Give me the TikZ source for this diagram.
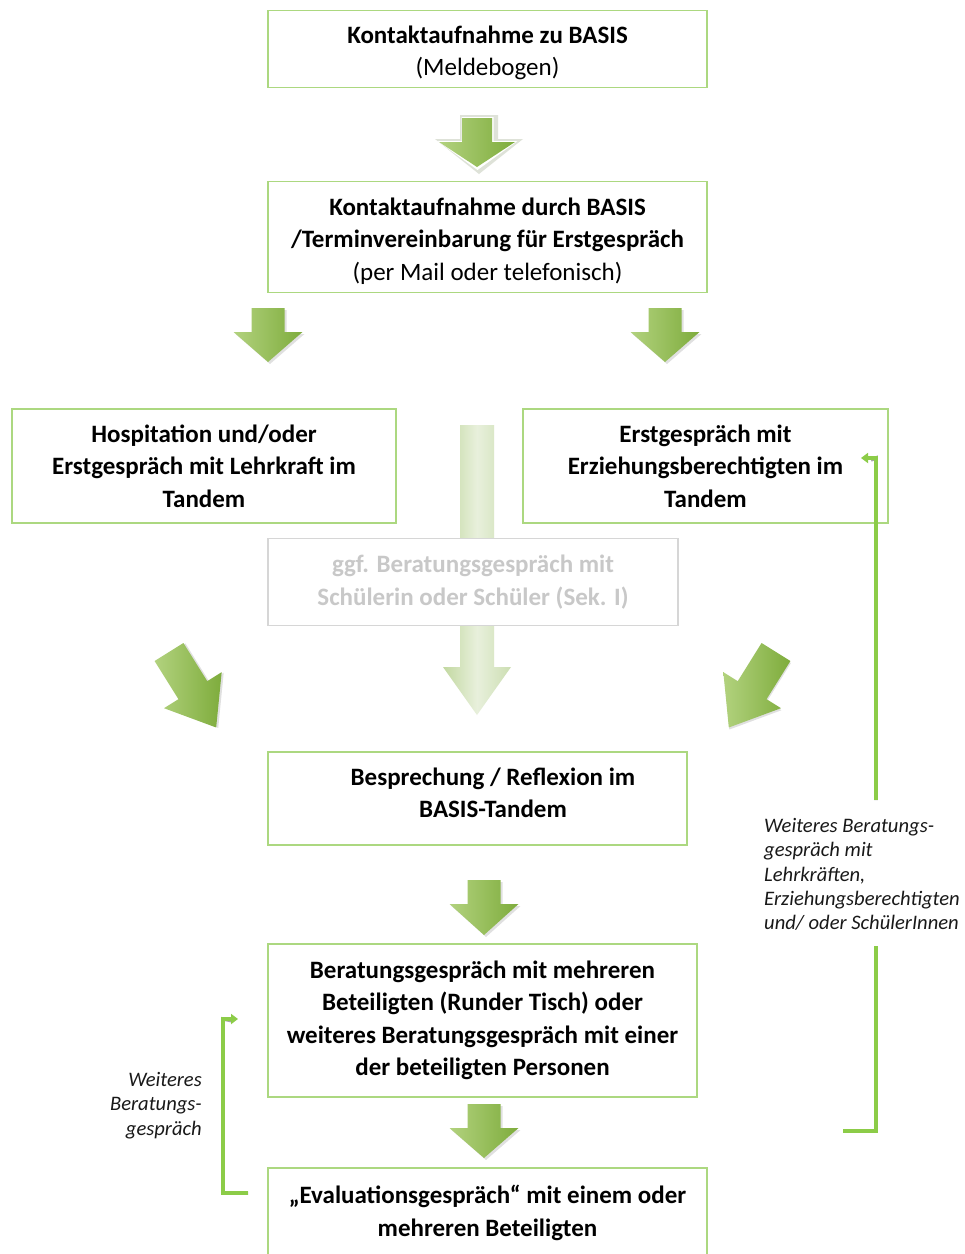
\documentclass[tikz,border=0pt]{standalone}
\usepackage{fontspec}
\setmainfont{Carlito}
\usetikzlibrary{arrows.meta}
\definecolor{boxgreen}{RGB}{172,216,128}
\definecolor{loopgreen}{RGB}{140,204,72}
\definecolor{arrL}{RGB}{178,210,126}
\definecolor{arrR}{RGB}{126,172,60}
\definecolor{fadeL}{RGB}{194,216,160}
\definecolor{fadeM}{RGB}{232,240,220}
\definecolor{fadeR}{RGB}{204,222,178}
\definecolor{fadetext}{RGB}{200,200,200}
\definecolor{fadeborder}{RGB}{214,214,214}
\newcommand{\bigdownarrow}[7]{%
  \path[#7] (#1-#3,#2) -- (#1+#3,#2) -- (#1+#3,#4) -- (#1+#5,#4) -- (#1,#6)
    -- (#1-#5,#4) -- (#1-#3,#4) -- cycle;}
\tikzset{
  box/.style={draw=boxgreen, line width=1.6pt, fill=white, align=center,
    inner sep=0pt, font=\fontsize{25}{32.5}\selectfont\bfseries, text=black},
  fadebox/.style={box, draw=fadeborder, text=fadetext},
  boxtext/.style={align=center, inner sep=0pt,
    font=\fontsize{25}{32.5}\selectfont\bfseries, text=black},
  bigarrow/.style={left color=arrL, right color=arrR, draw=none},
  fadearrow/.style={left color=fadeL, right color=fadeR, middle color=fadeM, draw=none},
  arrowshadow/.style={fill=black, opacity=0.12, draw=none},
  loopline/.style={draw=loopgreen, line width=3.5pt},
  loopshadow/.style={draw=black!35, line width=3.5pt},
  lbl/.style={inner sep=0pt, font=\fontsize{20.6}{24.4}\selectfont\itshape, text=black!90},
}
\begin{document}
\begin{tikzpicture}[x=1pt,y=-1pt]
\useasboundingbox[fill=white] (0,0) rectangle (965,1254);

% faded central arrow (behind the middle box)
\bigdownarrow{477}{425}{17}{667}{34}{715}{fadearrow}

% boxes
\node[box, minimum width=439pt, minimum height=77pt] (b1) at (487.5,49) {};
\node[boxtext] (t1) at (487.5,53) {Kontaktaufnahme zu BASIS\\\mdseries (Meldebogen)};
\node[box, minimum width=439pt, minimum height=111pt] (b2) at (487.5,237) {};
\node[boxtext] (t2) at (487.5,241)
  {Kontaktaufnahme durch BASIS\\/Terminvereinbarung für Erstgespräch\\\mdseries (per Mail oder telefonisch)};
\node[box, minimum width=384pt, minimum height=114pt] (b3l) at (204,466)
  {Hospitation und/oder\\Erstgespräch mit Lehrkraft im\\Tandem};
\node[box, minimum width=365pt, minimum height=114pt] (b3r) at (705.5,466)
  {Erstgespräch mit\\Erziehungsberechtigten im\\Tandem};
\node[fadebox, minimum width=410pt, minimum height=87pt] (bm) at (473,582)
  {ggf. Beratungsgespräch mit\\Schülerin oder Schüler (Sek. I)};
\node[box, minimum width=419pt, minimum height=93pt] (b4) at (477.5,798.5) {};
\node[boxtext] (t4) at (493,793) {Besprechung / Reflexion im\\BASIS-Tandem};
\node[box, minimum width=429pt, minimum height=153pt] (b5) at (482.5,1020.5)
  {Beratungsgespräch mit mehreren\\Beteiligten (Runder Tisch) oder\\weiteres Beratungsgespräch mit einer\\der beteiligten Personen};
\node[box, minimum width=439pt, minimum height=96pt] (b6) at (487.5,1216) {};
\node[boxtext] (t6) at (487.5,1213) {„Evaluationsgespräch“ mit einem oder\\mehreren Beteiligten};

% top arrow with light outline
\bigdownarrow{479}{115}{19}{139}{44}{174}{fill={rgb,255:red,222;green,226;blue,216}}
\bigdownarrow{477.5}{117}{16}{141}{40}{170}{fill=white}
\bigdownarrow{477}{118}{15}{142}{38}{167}{bigarrow}

% split arrows
\bigdownarrow{270}{310}{16.5}{334}{34.5}{364}{arrowshadow}
\bigdownarrow{268}{308}{16.5}{332}{34.5}{362}{bigarrow}
\bigdownarrow{667}{310}{16.5}{334}{34.5}{364}{arrowshadow}
\bigdownarrow{665}{308}{16.5}{332}{34.5}{362}{bigarrow}

% diagonal arrows
\begin{scope}[shift={(169,652)}, rotate=32]
  \bigdownarrow{1.5}{1.5}{17}{46.5}{34}{90.5}{arrowshadow}
  \bigdownarrow{0}{0}{17}{45}{34}{89}{bigarrow}
\end{scope}
\begin{scope}[shift={(776,652)}, rotate=-32]
  \bigdownarrow{1.5}{1.5}{17}{46.5}{34}{90.5}{arrowshadow}
  \bigdownarrow{0}{0}{17}{45}{34}{89}{bigarrow}
\end{scope}

% lower arrows
\bigdownarrow{486}{882}{16.5}{906}{34.5}{937}{arrowshadow}
\bigdownarrow{484}{880}{16.5}{904}{34.5}{935}{bigarrow}
\bigdownarrow{486}{1106}{16.5}{1130}{34.5}{1160}{arrowshadow}
\bigdownarrow{484}{1104}{16.5}{1128}{34.5}{1158}{bigarrow}

% right feedback loop
\coordinate (r0) at (843,1131);
\coordinate (r1) at (876,1131);
\coordinate (r2) at (876,946);
\coordinate (r3) at (876,800);
\coordinate (r4) at (876,458);
\coordinate (r5) at (861,458);
\begin{scope}[shift={(2,2)}]
  \draw[loopshadow] (r0) -- (r1) -- (r2);
  \draw[loopshadow] (r3) -- (r4) -- (869,458);
\end{scope}
\draw[loopline] (r0) -- (r1) -- (r2);
\draw[loopline, -{Triangle[length=7pt,width=10pt]}] (r3) -- (r4) -- (r5);
\node[lbl, align=left, anchor=north west] (rl) at (764,818)
  {Weiteres Beratungs-\\gespräch mit\\Lehrkräften,\\Erziehungsberechtigten\\und/ oder SchülerInnen};

% left feedback loop
\coordinate (l0) at (248,1193);
\coordinate (l1) at (223,1193);
\coordinate (l2) at (223,1019);
\coordinate (l3) at (238,1019);
\begin{scope}[shift={(2,2)}]
  \draw[loopshadow] (l0) -- (l1) -- (l2) -- (231,1019);
\end{scope}
\draw[loopline, -{Triangle[length=7pt,width=10pt]}] (l0) -- (l1) -- (l2) -- (l3);
\node[lbl, align=right, anchor=north east] (ll) at (202,1072)
  {Weiteres\\Beratungs-\\gespräch};
\end{tikzpicture}
\end{document}
